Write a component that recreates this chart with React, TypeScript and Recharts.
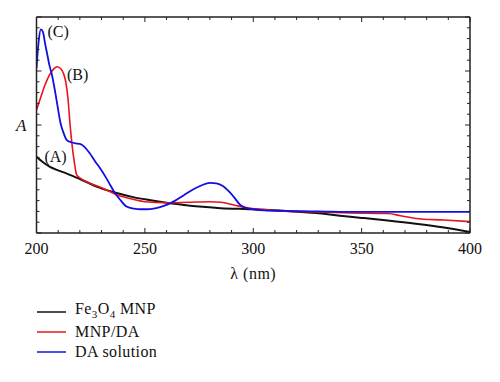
import { LineChart, Line, XAxis, YAxis, ReferenceDot, Legend } from "recharts";

const FONT = "'Liberation Serif', 'DejaVu Serif', serif";

// tick positions (majors every 50 nm / 1 unit, minors in between)
const xTicks = [200, 210, 220, 230, 240, 250, 260, 270, 280, 290, 300, 310, 320, 330, 340, 350, 360, 370, 380, 390, 400];
const xMajor = [200, 250, 300, 350, 400];
const yTicks = [0, 0.2, 0.4, 0.6, 0.8, 1, 1.2, 1.4, 1.6, 1.8, 2, 2.2, 2.4, 2.6, 2.8, 3, 3.2, 3.4, 3.6, 3.8, 4];
const yMajor = [0, 1, 2, 3, 4];

// (A) Fe3O4 MNP
const fe3o4Nm = [200, 203, 206, 210, 214, 220, 229, 237, 245, 252, 260, 268, 275, 285, 298, 314, 329, 340, 350, 362, 375, 388, 400];
const fe3o4A = [1.41, 1.31, 1.23, 1.16, 1.1, 1.0, 0.84, 0.74, 0.66, 0.61, 0.56, 0.52, 0.49, 0.46, 0.44, 0.41, 0.37, 0.32, 0.28, 0.23, 0.17, 0.1, 0.02];

// (B) MNP/DA
const mnpDaNm = [200, 202, 204, 206, 208, 209.5, 211, 212.5, 213.5, 214.5, 215.5, 216.5, 217.5, 218.5, 220, 222, 226, 230, 237, 245, 250, 260, 270, 280, 285, 291, 298, 314, 329, 345, 362, 368, 375, 388, 400];
const mnpDaA = [2.28, 2.52, 2.75, 2.93, 3.04, 3.08, 3.05, 2.95, 2.8, 2.5, 2.0, 1.6, 1.3, 1.08, 1.02, 0.97, 0.9, 0.84, 0.71, 0.62, 0.58, 0.56, 0.57, 0.58, 0.57, 0.52, 0.46, 0.41, 0.39, 0.37, 0.36, 0.32, 0.27, 0.24, 0.21];

// (C) DA solution
const daNm = [200, 201, 202, 203, 204, 205, 206, 207, 208, 209, 210, 211, 212.5, 214, 216, 218, 220, 222, 224.5, 227, 229.5, 232, 234, 236, 238.5, 241.5, 245, 248, 251, 254, 257, 260, 264, 268, 272, 276, 280, 283, 286, 289, 291, 294, 297, 300, 305, 314, 330, 350, 375, 400];
const daA = [3.05, 3.55, 3.77, 3.72, 3.5, 3.3, 3.1, 2.95, 2.75, 2.52, 2.28, 2.05, 1.85, 1.72, 1.68, 1.66, 1.65, 1.6, 1.48, 1.33, 1.19, 1.03, 0.89, 0.75, 0.62, 0.49, 0.45, 0.44, 0.44, 0.45, 0.48, 0.52, 0.6, 0.7, 0.8, 0.88, 0.93, 0.92, 0.87, 0.76, 0.67, 0.52, 0.46, 0.44, 0.42, 0.41, 0.4, 0.39, 0.39, 0.39];

const toRows = (nm: number[], a: number[]) => nm.map((x, i) => ({ nm: x, a: a[i] }));

const series = [
  { key: "fe3o4", name: "Fe3O4 MNP", color: "#111111", width: 2, data: toRows(fe3o4Nm, fe3o4A) },
  { key: "mnpda", name: "MNP/DA", color: "#e8141c", width: 1.6, data: toRows(mnpDaNm, mnpDaA) },
  { key: "da", name: "DA solution", color: "#1010e0", width: 1.8, data: toRows(daNm, daA) },
];

// curve annotations, placed in data coordinates
const curveLabels = [
  { text: "(A)", nm: 208.8, a: 1.42 },
  { text: "(B)", nm: 219, a: 2.93 },
  { text: "(C)", nm: 210, a: 3.73 },
];

function xTick(dir: number, showLabel: boolean) {
  return (props: any) => {
    const { x, y, payload } = props;
    const major = xMajor.includes(payload.value);
    const len = major ? 5 : 3;
    return (
      <g>
        <line x1={x} x2={x} y1={y} y2={y + dir * len} stroke="#222" strokeWidth={1} />
        {showLabel && major && (
          <text x={x} y={y + 20.5} textAnchor="middle" fontSize={16} fontFamily={FONT} fill="#111">
            {payload.value}
          </text>
        )}
      </g>
    );
  };
}

function yTick(dir: number) {
  return (props: any) => {
    const { x, y, payload } = props;
    const major = yMajor.includes(payload.value);
    const len = major ? 5 : 3;
    return <line x1={x} x2={x + dir * len} y1={y} y2={y} stroke="#222" strokeWidth={1} />;
  };
}

function legendLabel(name: string) {
  if (name === "Fe3O4 MNP") {
    return (
      <span>
        Fe<sub style={{ fontSize: 11 }}>3</sub>O<sub style={{ fontSize: 11 }}>4</sub> MNP
      </span>
    );
  }
  return <span>{name}</span>;
}

function LegendBox() {
  return (
    <div style={{ fontFamily: FONT, fontSize: 16, letterSpacing: 0.4, color: "#111" }}>
      {series.map((s) => (
        <div key={s.key} style={{ display: "flex", alignItems: "center", height: 20 }}>
          <svg width={29} height={4} style={{ display: "block" }}>
            <line x1={0} x2={29} y1={2} y2={2} stroke={s.color} strokeWidth={1.5} />
          </svg>
          <span style={{ marginLeft: 9, lineHeight: "20px" }}>{legendLabel(s.name)}</span>
        </div>
      ))}
    </div>
  );
}

export default function App() {
  return (
    <div style={{ position: "absolute", left: 0, top: 0, width: 500, height: 382, background: "#fff" }}>
      <LineChart width={500} height={382} margin={{ top: 16, left: 35.5, right: 29, bottom: 119 }}>
        <XAxis
          type="number"
          dataKey="nm"
          domain={[200, 400]}
          ticks={xTicks}
          interval={0}
          height={30}
          tickSize={0}
          tickMargin={0}
          stroke="#222"
          strokeWidth={1.5}
          axisLine
          tickLine={false}
          tick={xTick(-1, true)}
          allowDataOverflow
          label={{ value: "λ (nm)", position: "bottom", offset: 5, fontSize: 16, fontFamily: FONT, fill: "#111", letterSpacing: 0.5 }}
        />
        <XAxis
          xAxisId="top"
          orientation="top"
          type="number"
          dataKey="nm"
          domain={[200, 400]}
          ticks={xTicks}
          interval={0}
          height={1}
          tickSize={0}
          tickMargin={0}
          stroke="#222"
          strokeWidth={1.5}
          axisLine
          tickLine={false}
          tick={xTick(1, false)}
          allowDataOverflow
        />
        <YAxis
          type="number"
          domain={[0, 4]}
          ticks={yTicks}
          interval={0}
          width={1}
          tickSize={0}
          tickMargin={0}
          stroke="#222"
          strokeWidth={1.5}
          axisLine
          tickLine={false}
          tick={yTick(1)}
          allowDataOverflow
          label={{ value: "A", position: "left", offset: 9, fontSize: 17, fontFamily: FONT, fontStyle: "italic", fill: "#111" }}
        />
        <YAxis
          yAxisId="right"
          orientation="right"
          type="number"
          domain={[0, 4]}
          ticks={yTicks}
          interval={0}
          width={1}
          tickSize={0}
          tickMargin={0}
          stroke="#222"
          strokeWidth={1.5}
          axisLine
          tickLine={false}
          tick={yTick(-1)}
          allowDataOverflow
        />
        {series.map((s) => (
          <Line
            key={s.key}
            data={s.data}
            dataKey="a"
            name={s.name}
            type="monotone"
            stroke={s.color}
            strokeWidth={s.width}
            dot={false}
            activeDot={false}
            isAnimationActive={false}
          />
        ))}
        {curveLabels.map((l) => (
          <ReferenceDot
            key={l.text}
            x={l.nm}
            y={l.a}
            r={0}
            fill="none"
            stroke="none"
            label={{ value: l.text, position: "center", fontSize: 16, fontFamily: FONT, fill: "#111" }}
          />
        ))}
        <Legend
          layout="vertical"
          align="center"
          verticalAlign="middle"
          wrapperStyle={{ left: 37, top: 302, width: 220, height: 60 }}
          content={() => <LegendBox />}
        />
      </LineChart>
    </div>
  );
}
